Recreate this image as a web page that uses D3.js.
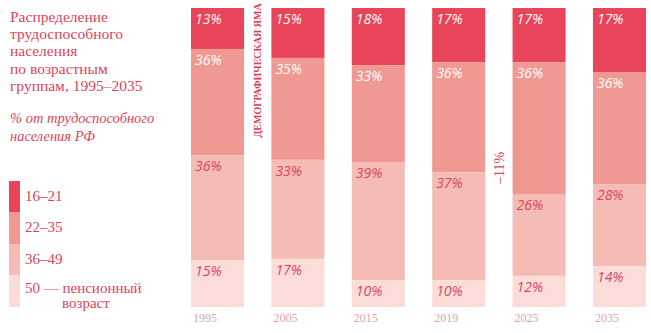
<!DOCTYPE html>
<html>
<head>
<meta charset="utf-8">
<script src="https://cdn.jsdelivr.net/npm/d3@7"></script>
<style>
  body { margin: 0; background: #fff; }
  svg { display: block; }
  .serif { font-family: "Liberation Serif", serif; }
  .pct { font-family: "Open Sans", sans-serif; font-style: italic; font-size: 14px; }
</style>
</head>
<body>
<div id="chart"></div>
<script>
////////////////////////////////////////////////////////////////////
////////////////////////////  Data  ////////////////////////////////
const years = ["1995", "2005", "2015", "2019", "2025", "2035"];
const groups = ["16–21", "22–35", "36–49", "50 — пенсионный"];

// share of each bar (as drawn, % of bar height)
const share16_21 = [13.7, 16.7, 19.1, 18.1, 18.1, 21.4];
const share22_35 = [35.5, 34.1, 32.4, 36.8, 44.1, 37.5];
const share36_49 = [35.1, 33.1, 39.5, 36.1, 27.4, 27.4];
const share50 = [15.7, 16.1, 9.0, 9.0, 10.4, 13.7];

// printed labels
const label16_21 = [13, 15, 18, 17, 17, 17];
const label22_35 = [36, 35, 33, 36, 36, 36];
const label36_49 = [36, 33, 39, 37, 26, 28];
const label50 = [15, 17, 10, 10, 12, 14];

const titleLines = ["Распределение", "трудоспособного", "населения", "по возрастным", "группам, 1995–2035"];
const subLines = ["% от трудоспособного", "населения РФ"];

////////////////////////////////////////////////////////////////////
////////////////////////////  Init  ////////////////////////////////
const width = 651;
const height = 333;
const colors = ["#e8455a", "#ef9992", "#f5bbb5", "#fbdcd8"];
const red = "#d9455c";
const keys = ["a", "b", "c", "d"];

const data = years.map((y, i) => ({
  year: y,
  a: share16_21[i], b: share22_35[i], c: share36_49[i], d: share50[i],
  la: label16_21[i], lb: label22_35[i], lc: label36_49[i], ld: label50[i]
}));

const svg = d3.select("#chart").append("svg")
  .attr("width", width).attr("height", height);

const x = d3.scaleBand().domain(years).range([191, 646]).paddingInner(0.34).paddingOuter(0);
const y = d3.scaleLinear().domain([0, 1]).range([8, 307]);

const stack = d3.stack().keys(keys).offset(d3.stackOffsetExpand);
const series = stack(data);

// bars
const layer = svg.append("g").selectAll("g")
  .data(series).join("g")
  .attr("fill", (d, i) => colors[i]);

layer.selectAll("rect")
  .data(d => d.map(v => Object.assign(v, { key: d.key })))
  .join("rect")
  .attr("x", d => x(d.data.year))
  .attr("y", d => y(d[0]))
  .attr("width", x.bandwidth())
  .attr("height", d => y(d[1]) - y(d[0]));

// percent labels
layer.selectAll("text")
  .data(d => d)
  .join("text")
  .attr("class", "pct")
  .attr("x", d => x(d.data.year) + 4)
  .attr("y", d => y(d[0]) + 16)
  .attr("fill", d => (d.key === "a" || d.key === "b") ? "#fff" : red)
  .text(d => d.data["l" + d.key] + "%");

// year axis
const xAxis = d3.axisBottom(x).tickSize(0).tickPadding(0);
const gx = svg.append("g")
  .attr("transform", `translate(0,${y(1)})`)
  .call(xAxis);
gx.select(".domain").remove();
gx.selectAll("text")
  .attr("class", "serif")
  .attr("font-size", 12)
  .attr("fill", "#e3a3a6")
  .attr("text-anchor", "start")
  .attr("dy", 0)
  .attr("y", 15)
  .attr("x", -x.bandwidth() / 2 + 2);

// annotations
svg.append("text")
  .attr("class", "serif")
  .attr("transform", `translate(${(x("1995") + x.bandwidth() + x("2005")) / 2 + 3},70.5) rotate(-90)`)
  .attr("text-anchor", "middle")
  .attr("font-size", 10)
  .attr("font-weight", "bold")
  .attr("fill", "#d63d57")
  .text("ДЕМОГРАФИЧЕСКАЯ ЯМА");

svg.append("text")
  .attr("class", "serif")
  .attr("transform", `translate(${(x("2019") + x.bandwidth() + x("2025")) / 2 + 5},168) rotate(-90)`)
  .attr("text-anchor", "middle")
  .attr("font-size", 14)
  .attr("fill", red)
  .text("–11%");

// title
svg.append("text")
  .attr("class", "serif")
  .attr("font-size", 15.5)
  .attr("fill", red)
  .selectAll("tspan")
  .data(titleLines).join("tspan")
  .attr("x", 10)
  .attr("y", (d, i) => 22 + i * 17.2)
  .text(d => d);

svg.append("text")
  .attr("class", "serif")
  .attr("font-size", 14.5)
  .attr("font-style", "italic")
  .attr("fill", red)
  .selectAll("tspan")
  .data(subLines).join("tspan")
  .attr("x", 10)
  .attr("y", (d, i) => 123 + i * 18)
  .text(d => d);

// legend
const ly = d3.scaleBand().domain(groups).range([181, 307]);
const legend = svg.append("g");
legend.selectAll("rect")
  .data(groups).join("rect")
  .attr("x", 9)
  .attr("y", d => ly(d))
  .attr("width", 11)
  .attr("height", ly.bandwidth())
  .attr("fill", (d, i) => colors[i]);

legend.selectAll("text")
  .data(groups).join("text")
  .attr("class", "serif")
  .attr("font-size", 15)
  .attr("fill", red)
  .attr("x", 25)
  .attr("y", (d, i) => ly(d) + (i === 3 ? 17.5 : 19.5))
  .text(d => d);

legend.append("text")
  .attr("class", "serif")
  .attr("font-size", 15)
  .attr("fill", red)
  .attr("x", 62)
  .attr("y", ly(groups[3]) + 32.5)
  .text("возраст");
</script>
</body>
</html>
